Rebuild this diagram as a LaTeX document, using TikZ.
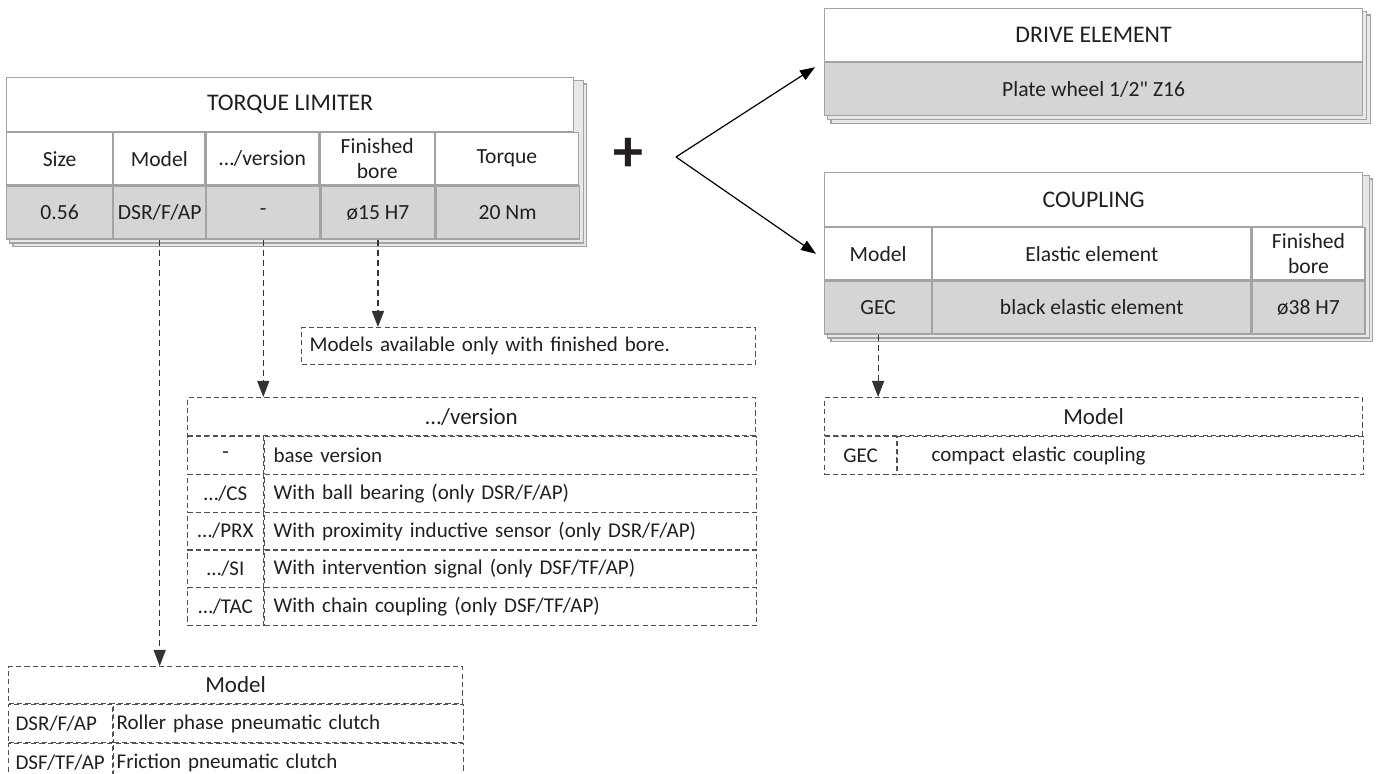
\documentclass[tikz,border=0pt]{standalone}
\usepackage{fontspec}
\setmainfont{Carlito}
\usetikzlibrary{arrows.meta,calc,backgrounds}
\definecolor{cellFill}{HTML}{D4D5D7}
\definecolor{cellDraw}{HTML}{A3A3A3}
\definecolor{legDraw}{HTML}{505050}
\definecolor{ink}{HTML}{231F20}
\tikzset{
  cell/.style  ={draw=cellDraw, line width=0.6pt, text=ink, anchor=north west, align=center, inner xsep=2pt, inner ysep=0pt, minimum height=26pt, font=\fontsize{10.8}{12.5}\selectfont},
  ttl/.style   ={cell, fill=white, minimum height=27pt, font=\fontsize{11.9}{13}\selectfont},
  hdr/.style   ={cell, fill=white},
  val/.style   ={cell, fill=cellFill, minimum height=26.5pt},
  sheet/.style ={draw=cellDraw, fill=cellFill!55, line width=0.6pt},
  leg/.style   ={draw=legDraw, line width=0.55pt, dash pattern=on 2.6pt off 1.6pt, text=ink, anchor=north west, inner ysep=0pt, minimum height=19pt, font=\fontsize{10.5}{12}\selectfont},
  legttl/.style={leg, font=\fontsize{11.5}{13}\selectfont},
  arr/.style   ={-{Triangle[length=7.5pt,width=5.5pt]}, line width=0.6pt, black},
  darr/.style  ={-{Triangle[length=8pt,width=6pt]}, line width=0.6pt, black!80, dash pattern=on 3pt off 2pt},
}

\begin{document}
\begin{tikzpicture}[x=0.5pt, y=-0.5pt]
  \useasboundingbox (0,0) rectangle (1376,774);
  \clip (0,0) rectangle (1376,774);

  % torque limiter table
  \node[ttl, minimum width=283.5pt] (tq-t)  at (6,77) {TORQUE LIMITER};
  \node[hdr, minimum width=53pt]    (tq-h1) at (tq-t.south west) {Size};
  \node[hdr, minimum width=45.5pt]  (tq-h2) at (tq-h1.north east) {Model};
  \node[hdr, minimum width=56.5pt]  (tq-h3) at (tq-h2.north east) {…/version};
  \node[hdr, minimum width=57pt]    (tq-h4) at (tq-h3.north east) {Finished\\bore};
  \node[hdr, minimum width=71.5pt]  (tq-h5) at (tq-h4.north east) {Torque};
  \node[val, minimum width=53pt]    (tq-d1) at (tq-h1.south west) {0.56};
  \node[val, minimum width=45.5pt]  (tq-d2) at (tq-d1.north east) {DSR/F/AP};
  \node[val, minimum width=56.5pt]  (tq-d3) at (tq-d2.north east) {-};
  \node[val, minimum width=57pt]    (tq-d4) at (tq-d3.north east) {ø15 H7};
  \node[val, minimum width=71.5pt]  (tq-d5) at (tq-d4.north east) {20 Nm};

  % drive element and coupling
  \node[ttl, minimum width=269pt, minimum height=26.5pt] (de-t) at (824,8) {DRIVE ELEMENT};
  \node[val, minimum width=269pt] (de-d) at (de-t.south west) {Plate wheel 1/2\textquotedbl{} Z16};

  \node[ttl, minimum width=269pt]  (cp-t)  at (824,172) {COUPLING};
  \node[hdr, minimum width=53.5pt] (cp-h1) at (cp-t.south west) {Model};
  \node[hdr, minimum width=159pt]  (cp-h2) at (cp-h1.north east) {Elastic element};
  \node[hdr, minimum width=56.5pt] (cp-h3) at (cp-h2.north east) {Finished\\bore};
  \node[val, minimum width=53.5pt] (cp-d1) at (cp-h1.south west) {GEC};
  \node[val, minimum width=159pt]  (cp-d2) at (cp-d1.north east) {black elastic element};
  \node[val, minimum width=56.5pt] (cp-d3) at (cp-d2.north east) {ø38 H7};

  % stacked sheets behind the tables
  \begin{scope}[on background layer]
    \foreach \d in {7,3.5} {
      \draw[sheet] ($(tq-t.north west)+(\d,\d)$) rectangle ($(tq-d5.south east)+(\d,\d)$);
      \draw[sheet] ($(de-t.north west)+(\d,\d)$) rectangle ($(de-d.south east)+(\d,\d)$);
      \draw[sheet] ($(cp-t.north west)+(\d,\d)$) rectangle ($(cp-d3.south east)+(\d,\d)$);
    }
  \end{scope}

  % plus and fork
  \node[text=ink, font=\fontsize{30}{30}\selectfont\bfseries] (plus) at (628,155) {+};
  \coordinate (fork) at (676,157);
  \draw[arr] (fork) -- ([xshift=-4.5pt,yshift=-2.5pt]de-t.south west);
  \draw[arr] (fork) -- ([xshift=-4pt]cp-h1.west);

  % legends
  \node[leg, text width=219pt, inner xsep=4pt, align=left, minimum height=18.5pt] (note) at (301,327) {Models available only with finished bore.};

  \node[legttl, minimum width=284pt] (vr-t) at (187,397) {…/version};
  \foreach \code/\txt [count=\i] in {{-}/{base version}, {…/CS}/{With ball bearing (only DSR/F/AP)}, {…/PRX}/{With proximity inductive sensor (only DSR/F/AP)}, {…/SI}/{With intervention signal (only DSF/TF/AP)}, {…/TAC}/{With chain coupling (only DSF/TF/AP)}} {
    \node[leg, minimum width=38pt, minimum height=18.9pt] (vr-c\i) at ($(vr-t.south west)+(0,{(\i-1)*37.8})$) {\code};
    \node[leg, minimum height=18.9pt, text width=237pt, inner xsep=4.5pt, align=left] (vr-x\i) at (vr-c\i.north east) {\txt};
  }

  \node[legttl, minimum width=269pt] (cl-t) at (824,397) {Model};
  \node[leg, minimum width=36pt] (cl-c) at (cl-t.south west) {GEC};
  \node[leg, text width=199pt, inner xsep=17pt, align=left] (cl-x) at (cl-c.north east) {compact elastic coupling};

  \node[legttl, minimum width=227pt, minimum height=18.5pt] (md-t) at (8,666) {Model};
  \node[leg, text width=45pt, inner xsep=3.5pt, align=left] (md-c1) at (md-t.south west) {DSR/F/AP};
  \node[leg, text width=172pt, inner xsep=1.5pt, align=left] (md-x1) at (md-c1.north east) {Roller phase pneumatic clutch};
  \node[leg, text width=45pt, inner xsep=3.5pt, align=left] (md-c2) at (md-c1.south west) {DSF/TF/AP};
  \node[leg, text width=172pt, inner xsep=1.5pt, align=left] (md-x2) at (md-c2.north east) {Friction pneumatic clutch};

  % dashed pointers to the legends
  \draw[darr] (tq-d2.south) -- (tq-d2.south |- md-t.north);
  \draw[darr] (tq-d3.south) -- (tq-d3.south |- vr-t.north);
  \draw[darr] (tq-d4.south) -- (tq-d4.south |- note.north);
  \draw[darr] (cp-d1.south) -- (cp-d1.south |- cl-t.north);
\end{tikzpicture}
\end{document}
